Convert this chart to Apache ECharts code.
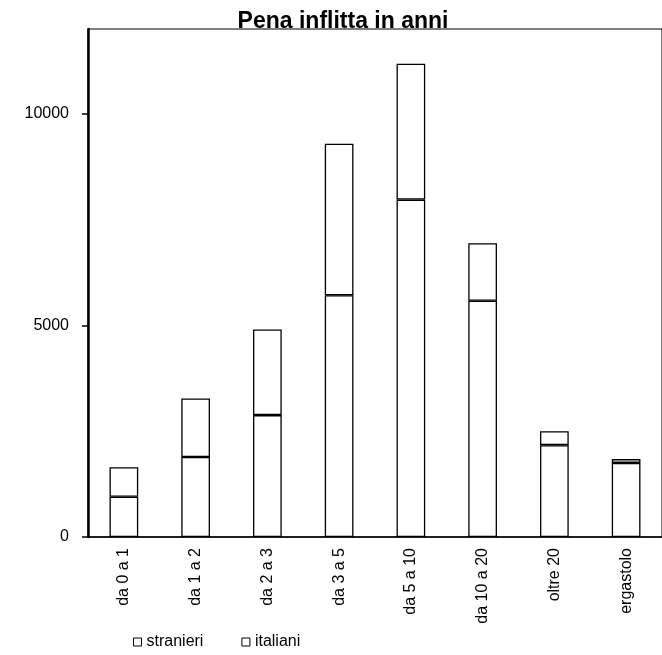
<!DOCTYPE html>
<html>
<head>
<meta charset="utf-8">
<script src="https://cdn.jsdelivr.net/npm/echarts@6/dist/echarts.min.js"></script>
<style>
  html, body { margin: 0; padding: 0; background: #fff; }
  #chart { width: 662px; height: 655px; }
</style>
</head>
<body>
<div id="chart"></div>
<script>
// categorie e valori
const categorie = ['da 0 a 1', 'da 1 a 2', 'da 2 a 3', 'da 3 a 5', 'da 5 a 10', 'da 10 a 20', 'oltre 20', 'ergastolo'];
const italiani = [950, 1890, 2880, 5710, 7970, 5580, 2170, 1750];
const stranieri = [700, 1380, 2020, 3580, 3210, 1360, 330, 90];
const yTicks = [0, 5000, 10000];

const myChart = echarts.init(document.getElementById('chart'));

const barStyle = {
  color: '#fff',
  borderColor: '#000',
  borderWidth: 1.3
};

const option = {
  animation: false,
  textStyle: { fontFamily: 'Liberation Sans, Arial, sans-serif', color: '#000' },
  title: {
    text: 'Pena inflitta in anni',
    left: 338,
    textAlign: 'center',
    top: 5,
    textStyle: { fontSize: 23, fontWeight: 'bold', color: '#000', fontFamily: 'Liberation Sans, Arial, sans-serif' }
  },
  legend: {
    data: ['stranieri', 'italiani'],
    left: 128,
    top: 629,
    icon: 'rect',
    itemWidth: 8,
    itemHeight: 8,
    itemGap: 38,
    itemStyle: { color: '#fff', borderColor: '#000', borderWidth: 1 },
    textStyle: { fontSize: 16, color: '#000' }
  },
  grid: {
    left: 88,
    top: 29,
    width: 588,
    height: 508,
    show: true,
    borderColor: '#000',
    borderWidth: 1
  },
  xAxis: {
    type: 'category',
    data: categorie,
    axisLine: { lineStyle: { color: '#000', width: 1.5 } },
    axisTick: { show: false },
    axisLabel: { rotate: 90, margin: 11, fontSize: 16, color: '#000' }
  },
  yAxis: {
    type: 'value',
    min: 0,
    max: 12000,
    axisLine: { show: true, lineStyle: { color: '#000', width: 2.5 } },
    axisTick: { show: true, length: 6, customValues: yTicks, lineStyle: { color: '#000', width: 1.5 } },
    splitLine: { show: false },
    axisLabel: {
      fontSize: 16,
      color: '#000',
      margin: 19,
      customValues: yTicks,
      formatter: function (v) { return String(v); }
    }
  },
  series: [
    {
      name: 'italiani',
      type: 'bar',
      stack: 'tot',
      barWidth: '40%',
      itemStyle: barStyle,
      data: italiani
    },
    {
      name: 'stranieri',
      type: 'bar',
      stack: 'tot',
      barWidth: '40%',
      itemStyle: barStyle,
      data: stranieri
    }
  ]
};

myChart.setOption(option);
</script>
</body>
</html>
